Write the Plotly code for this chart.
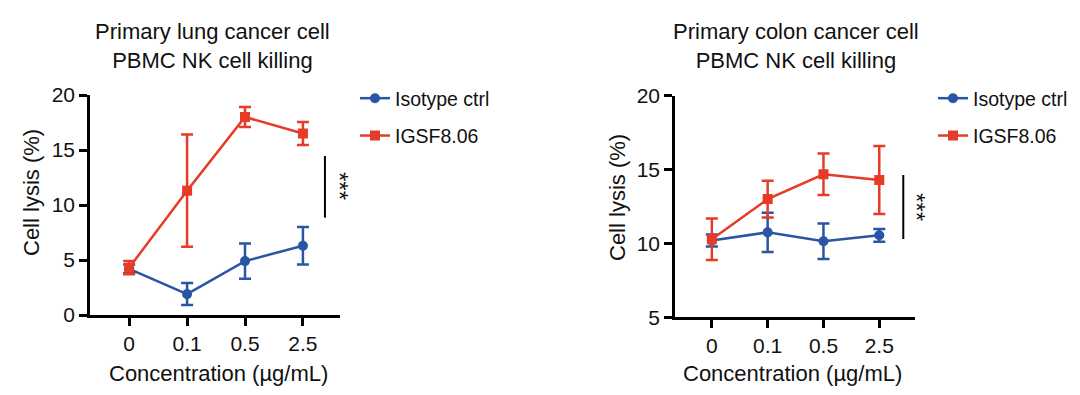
import plotly.graph_objects as go

concentrations = ["0", "0.1", "0.5", "2.5"]
xpos = [0, 1, 2, 3]

# Primary lung cancer cell
lung_iso_mean = [4.2, 1.9, 4.9, 6.3]
lung_iso_err = [0.4, 1.0, 1.6, 1.7]
lung_igsf_mean = [4.3, 11.3, 18.0, 16.5]
lung_igsf_err = [0.6, 5.1, 0.9, 1.05]

# Primary colon cancer cell
colon_iso_mean = [10.2, 10.75, 10.15, 10.55]
colon_iso_err = [0.4, 1.33, 1.2, 0.43]
colon_igsf_mean = [10.28, 13.0, 14.68, 14.3]
colon_igsf_err = [1.4, 1.25, 1.4, 2.3]

BLUE = "#2A54A4"
RED = "#E63B27"
FONT = "Liberation Sans, Arial, Helvetica, sans-serif"
W, H = 1080, 395

def px(x):
    return x / W

def py(y):
    return 1 - y / H

fig = go.Figure()

def add_series(x, y, err, color, symbol, name, xa, ya, legend):
    fig.add_trace(go.Scatter(
        x=x, y=y, mode="lines+markers", name=name,
        line=dict(color=color, width=2.5),
        marker=dict(color=color, symbol=symbol, size=10),
        error_y=dict(type="data", array=err, visible=True, color=color, thickness=2.5, width=6),
        xaxis=xa, yaxis=ya, legend=legend, legendgroup=name + legend,
    ))

add_series(xpos, lung_iso_mean, lung_iso_err, BLUE, "circle", "Isotype ctrl", "x", "y", "legend")
add_series(xpos, lung_igsf_mean, lung_igsf_err, RED, "square", "IGSF8.06", "x", "y", "legend")
add_series(xpos, colon_iso_mean, colon_iso_err, BLUE, "circle", "Isotype ctrl", "x2", "y2", "legend2")
add_series(xpos, colon_igsf_mean, colon_igsf_err, RED, "square", "IGSF8.06", "x2", "y2", "legend2")

axis_common = dict(
    showline=True, linecolor="black", linewidth=2.5, ticks="outside", ticklen=8,
    tickwidth=2.5, tickcolor="black", showgrid=False, zeroline=False, automargin=False,
    tickfont=dict(family=FONT, size=21, color="#111"),
)

legend_common = dict(xanchor="left", yanchor="top", font=dict(family=FONT, size=19.5, color="#111"),
                     bgcolor="rgba(0,0,0,0)", traceorder="grouped", tracegroupgap=9)

fig.update_layout(
    width=W, height=H,
    margin=dict(l=0, r=0, t=0, b=0, autoexpand=False),
    paper_bgcolor="white", plot_bgcolor="white",
    font=dict(family=FONT, size=20, color="#111"),
    xaxis=dict(domain=[px(90), px(340)], range=[-0.676, 3.64], tickvals=xpos,
               ticktext=concentrations, anchor="y", **axis_common),
    yaxis=dict(domain=[py(315), py(95)], range=[0, 20], tickvals=[0, 5, 10, 15, 20],
               anchor="x", **axis_common),
    xaxis2=dict(domain=[px(675), px(915)], range=[-0.66, 3.64], tickvals=xpos,
                ticktext=concentrations, anchor="y2", **axis_common),
    yaxis2=dict(domain=[py(317.3), py(95.7)], range=[5, 20], tickvals=[5, 10, 15, 20],
                anchor="x2", **axis_common),
    legend=dict(x=px(355), y=py(79), **legend_common),
    legend2=dict(x=px(933), y=py(79), **legend_common),
)

# significance bars
fig.add_shape(type="line", xref="x", yref="y", x0=3.38, x1=3.38, y0=8.85, y1=14.45,
              line=dict(color="black", width=2))
fig.add_shape(type="line", xref="x2", yref="y2", x0=3.43, x1=3.43, y0=10.3, y1=14.63,
              line=dict(color="black", width=2))
for cx, cy in [(340, 186), (917, 207)]:
    fig.add_annotation(xref="paper", yref="paper", x=px(cx), y=py(cy), text="***", textangle=90,
                       showarrow=False, xanchor="center", yanchor="middle",
                       font=dict(family=FONT, size=24, color="#111"))

# titles
for cx, t in [(212, "Primary lung cancer cell<br>PBMC NK cell killing"),
              (796, "Primary colon cancer cell<br>PBMC NK cell killing")]:
    fig.add_annotation(xref="paper", yref="paper", x=px(cx), y=py(46), text=t,
                       showarrow=False, xanchor="center", yanchor="middle",
                       font=dict(family=FONT, size=22, color="#111"))

# axis titles
for cx, cy in [(32, 193), (617, 198)]:
    fig.add_annotation(xref="paper", yref="paper", x=px(cx), y=py(cy),
                       text="Cell lysis (%)", textangle=-90, showarrow=False,
                       xanchor="center", yanchor="middle",
                       font=dict(family=FONT, size=22, color="#111"))
for cx in [218, 792]:
    fig.add_annotation(xref="paper", yref="paper", x=px(cx), y=py(373),
                       text="Concentration (µg/mL)", showarrow=False,
                       xanchor="center", yanchor="middle",
                       font=dict(family=FONT, size=22, color="#111"))

fig.write_html("out.html", config={"displayModeBar": False},
               post_script="document.body.style.margin='0px';")
